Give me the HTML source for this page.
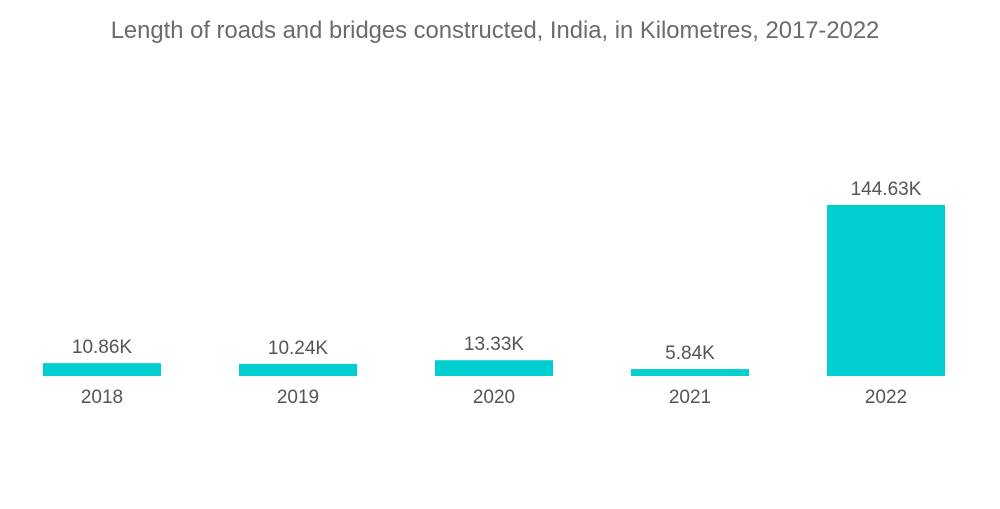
<!DOCTYPE html>
<html><head><style>
body{margin:0;background:#fff;}
svg text{font-family:"Liberation Sans",sans-serif;fill:#555;}
</style></head><body>
<svg width="1000" height="504">
<text x="495" y="38" text-anchor="middle" font-size="23.8" style="fill:#6b6b6b">Length of roads and bridges constructed, India, in Kilometres, 2017-2022</text>
<g id="bars"></g>
</svg>
<script>
const categories=["2018","2019","2020","2021","2022"];
const values=[10.86,10.24,13.33,5.84,144.63];
const valueLabels=["10.86K","10.24K","13.33K","5.84K","144.63K"];
const base=376, scale=171/144.63;
const x=i=>43+i*196, w=118;
const y=v=>base-v*scale;
const g=document.getElementById('bars');
const ns="http://www.w3.org/2000/svg";
categories.forEach((c,i)=>{
 const r=document.createElementNS(ns,'rect');
 
 
 r.setAttribute('x',x(i));r.setAttribute('y',y(values[i]));
 r.setAttribute('width',w);r.setAttribute('height',base-y(values[i]));
 r.setAttribute('fill','#00ced1');g.appendChild(r);
 const t=document.createElementNS(ns,'text');
 
 
 t.setAttribute('x',x(i)+w/2);t.setAttribute('y',y(values[i])-10);
 t.setAttribute('text-anchor','middle');t.setAttribute('font-size','19');
 t.textContent=valueLabels[i];g.appendChild(t);
 const l=document.createElementNS(ns,'text');
 
 
 l.setAttribute('x',x(i)+w/2);l.setAttribute('y',403);
 l.setAttribute('text-anchor','middle');l.setAttribute('font-size','19');
 l.textContent=c;g.appendChild(l);
});
</script>
</body></html>
